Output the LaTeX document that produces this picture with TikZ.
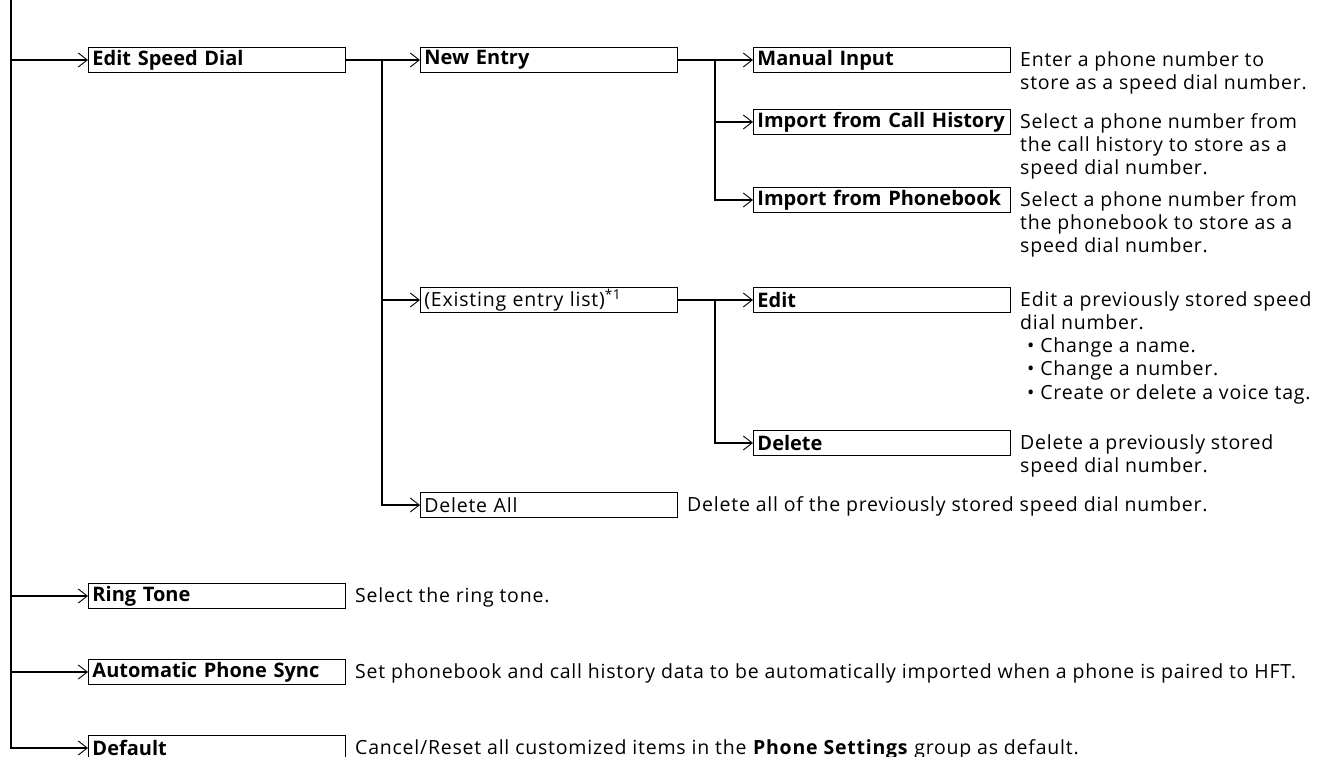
\documentclass[tikz,border=0pt]{standalone}
\usepackage{fontspec}
\setmainfont{Open Sans}[LetterSpace=4]
\newfontfamily\boxfont{Open Sans}
\usetikzlibrary{arrows.meta}
\begin{document}
\begin{tikzpicture}[x=1pt,y=-1pt,
  txt/.style={font=\fontsize{19.5}{23.2}\selectfont},
  box/.style={draw, line width=0.9pt, anchor=west, minimum width=257pt, minimum height=25pt,
    text width=249pt, inner xsep=4pt, inner ysep=0pt, align=left,
    font=\fontsize{20}{23}\selectfont\boxfont\bfseries},
  pbox/.style={box, font=\fontsize{19.5}{23}\selectfont},
  desc/.style={txt, anchor=north west, align=left, inner sep=0pt},
  conn/.style={line width=1.6pt},
  arr/.style={conn, -{Straight Barb[length=9pt,width=14pt,line width=0.9pt]}}
]
\useasboundingbox (0,0) rectangle (1317,757);
\newcommand\fl{\rule{0pt}{15pt}}

% level 1
\node[box] (esd) at (88,60) {Edit Speed Dial};
\node[box] (rt) at (88,596) {Ring Tone};
\node[box] (aps) at (88,672) {Automatic Phone Sync};
\node[box] (def) at (88,748) {Default};
% level 2
\node[box] (ne) at (420,60) {New Entry};
\node[pbox] (eel) at (420,300) {(Existing entry list)\textsuperscript{*1}};
\node[pbox] (dall) at (420,505) {Delete All};
% level 3
\node[box] (mi) at (753,60) {Manual Input};
\node[box] (ich) at (753,122) {Import from Call History};
\node[box] (iph) at (753,200) {Import from Phonebook};
\node[box] (ed) at (753,300) {Edit};
\node[box] (dl) at (753,443) {Delete};

% descriptions
\node[desc] (dmi) at (1020,51) {\fl Enter a phone number to\\store as a speed dial number.};
\node[desc] (dich) at (1020,113) {\fl Select a phone number from\\the call history to store as a\\speed dial number.};
\node[desc] (diph) at (1020,191) {\fl Select a phone number from\\the phonebook to store as a\\speed dial number.};
\node[desc] (ded) at (1020,291) {\fl Edit a previously stored speed\\dial number.\\\hspace*{7pt}• Change a name.\\\hspace*{7pt}• Change a number.\\\hspace*{7pt}• Create or delete a voice tag.};
\node[desc] (ddl) at (1020,434) {\fl Delete a previously stored\\speed dial number.};
\node[desc] (ddall) at (687,496) {\fl Delete all of the previously stored speed dial number.};
\node[desc] (drt) at (355,587) {\fl Select the ring tone.};
\node[desc] (daps) at (355,663) {\fl Set phonebook and call history data to be automatically imported when a phone is paired to HFT.};
\node[desc] (ddef) at (355,739) {\fl Cancel/Reset all customized items in the \textbf{Phone Settings} group as default.};

% connectors level 1
\coordinate (top) at (11,0);
\draw[arr] (top) |- (def.west);
\draw[arr] (top |- esd.west) -- (esd.west);
\draw[arr] (top |- rt.west) -- (rt.west);
\draw[arr] (top |- aps.west) -- (aps.west);
% level 2
\coordinate (j1) at (382,60);
\draw[arr] (esd.east) -- (ne.west);
\draw[arr] (j1) |- (dall.west);
\draw[arr] (j1 |- eel.west) -- (eel.west);
% level 3
\coordinate (j2) at (715,60);
\draw[arr] (ne.east) -- (mi.west);
\draw[arr] (j2) |- (iph.west);
\draw[arr] (j2 |- ich.west) -- (ich.west);
\coordinate (j3) at (715,300);
\draw[arr] (eel.east) -- (ed.west);
\draw[arr] (j3) |- (dl.west);
\end{tikzpicture}
\end{document}
